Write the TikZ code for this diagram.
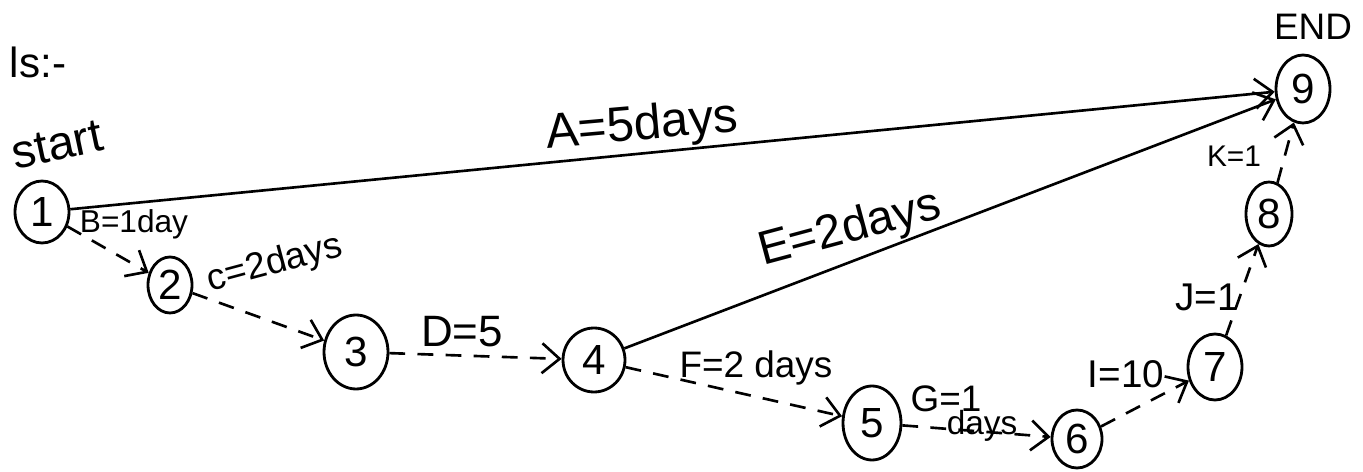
\documentclass[tikz,border=0pt]{standalone}
\usepackage{fontspec}
\setmainfont{Liberation Sans}
\usetikzlibrary{arrows.meta,shapes.geometric}
\tikzset{
  ev/.style={draw, ellipse, line width=1.6pt, inner sep=0pt, font=\fontsize{24}{28}\selectfont},
  lbl/.style={inner sep=0pt, font=\fontsize{#1}{#1}\selectfont},
  lbl/.default=22,
  act/.style={line width=1.5pt, -{Straight Barb[length=10pt,width=17pt,line width=1.5pt]}},
  dum/.style={act, dash pattern=on 9pt off 7pt},
}
\begin{document}
\begin{tikzpicture}[x=0.02cm,y=-0.02cm]
\path[use as bounding box] (0,0) rectangle (1363,472);
% events
\node[ev, minimum width=1.08cm, minimum height=1.24cm] (n1) at (42,212) {1};
\node[ev, minimum width=0.88cm, minimum height=1.12cm] (n2) at (170,285) {2};
\node[ev, minimum width=1.28cm, minimum height=1.48cm] (n3) at (356,352) {3};
\node[ev, minimum width=1.24cm, minimum height=1.28cm] (n4) at (594,360) {4};
\node[ev, minimum width=1.16cm, minimum height=1.48cm] (n5) at (872,423) {5};
\node[ev, minimum width=1.00cm, minimum height=1.16cm] (n6) at (1077,439) {6};
\node[ev, minimum width=1.08cm, minimum height=1.32cm] (n7) at (1215,367) {7};
\node[ev, minimum width=0.92cm, minimum height=1.28cm] (n8) at (1269,214) {8};
\node[ev, minimum width=1.08cm, minimum height=1.36cm] (n9) at (1303,89) {9};
% texts
\node[lbl=24] (sol) at (38,62) {ls:-};
\node[lbl=27, rotate=12] (start) at (57,145) {start};
\node[lbl=21] (endl) at (1313,27) {END};
\node[lbl=28, rotate=5] (la) at (642,127) {A=5days};
\node[lbl=18] (lb) at (134,224) {B=1day};
\node[lbl=21, rotate=15] (lc) at (275,264) {c=2days};
\node[lbl=25] (ld) at (462,332) {D=5};
\node[lbl=27, rotate=15] (le) at (850,230) {E=2days};
\node[lbl=21] (lf) at (756,368) {F=2 days};
\node[lbl=21] (lg) at (946,399) {G=1};
\node[lbl=19] (lg2) at (982,426) {days};
\node[lbl=22] (li) at (1126,374) {I=10};
\node[lbl=22] (lj) at (1207,297) {J=1};
\node[lbl=17] (lk) at (1234,156) {K=1};
% activities
\draw[act] (n1) -- (n9);
\draw[act] (n4) -- (n9);
\draw[dum] (n1) -- (n2);
\draw[dum] (n2) -- (n3);
\draw[dum] (n3) -- (n4);
\draw[dum] (n4) -- (n5);
\draw[dum] (n5) -- (n6);
\draw[dum] (n6) -- (n7);
\draw[dum] (n7) -- (n8);
\draw[dum] (n8) -- (n9);
\end{tikzpicture}
\end{document}
